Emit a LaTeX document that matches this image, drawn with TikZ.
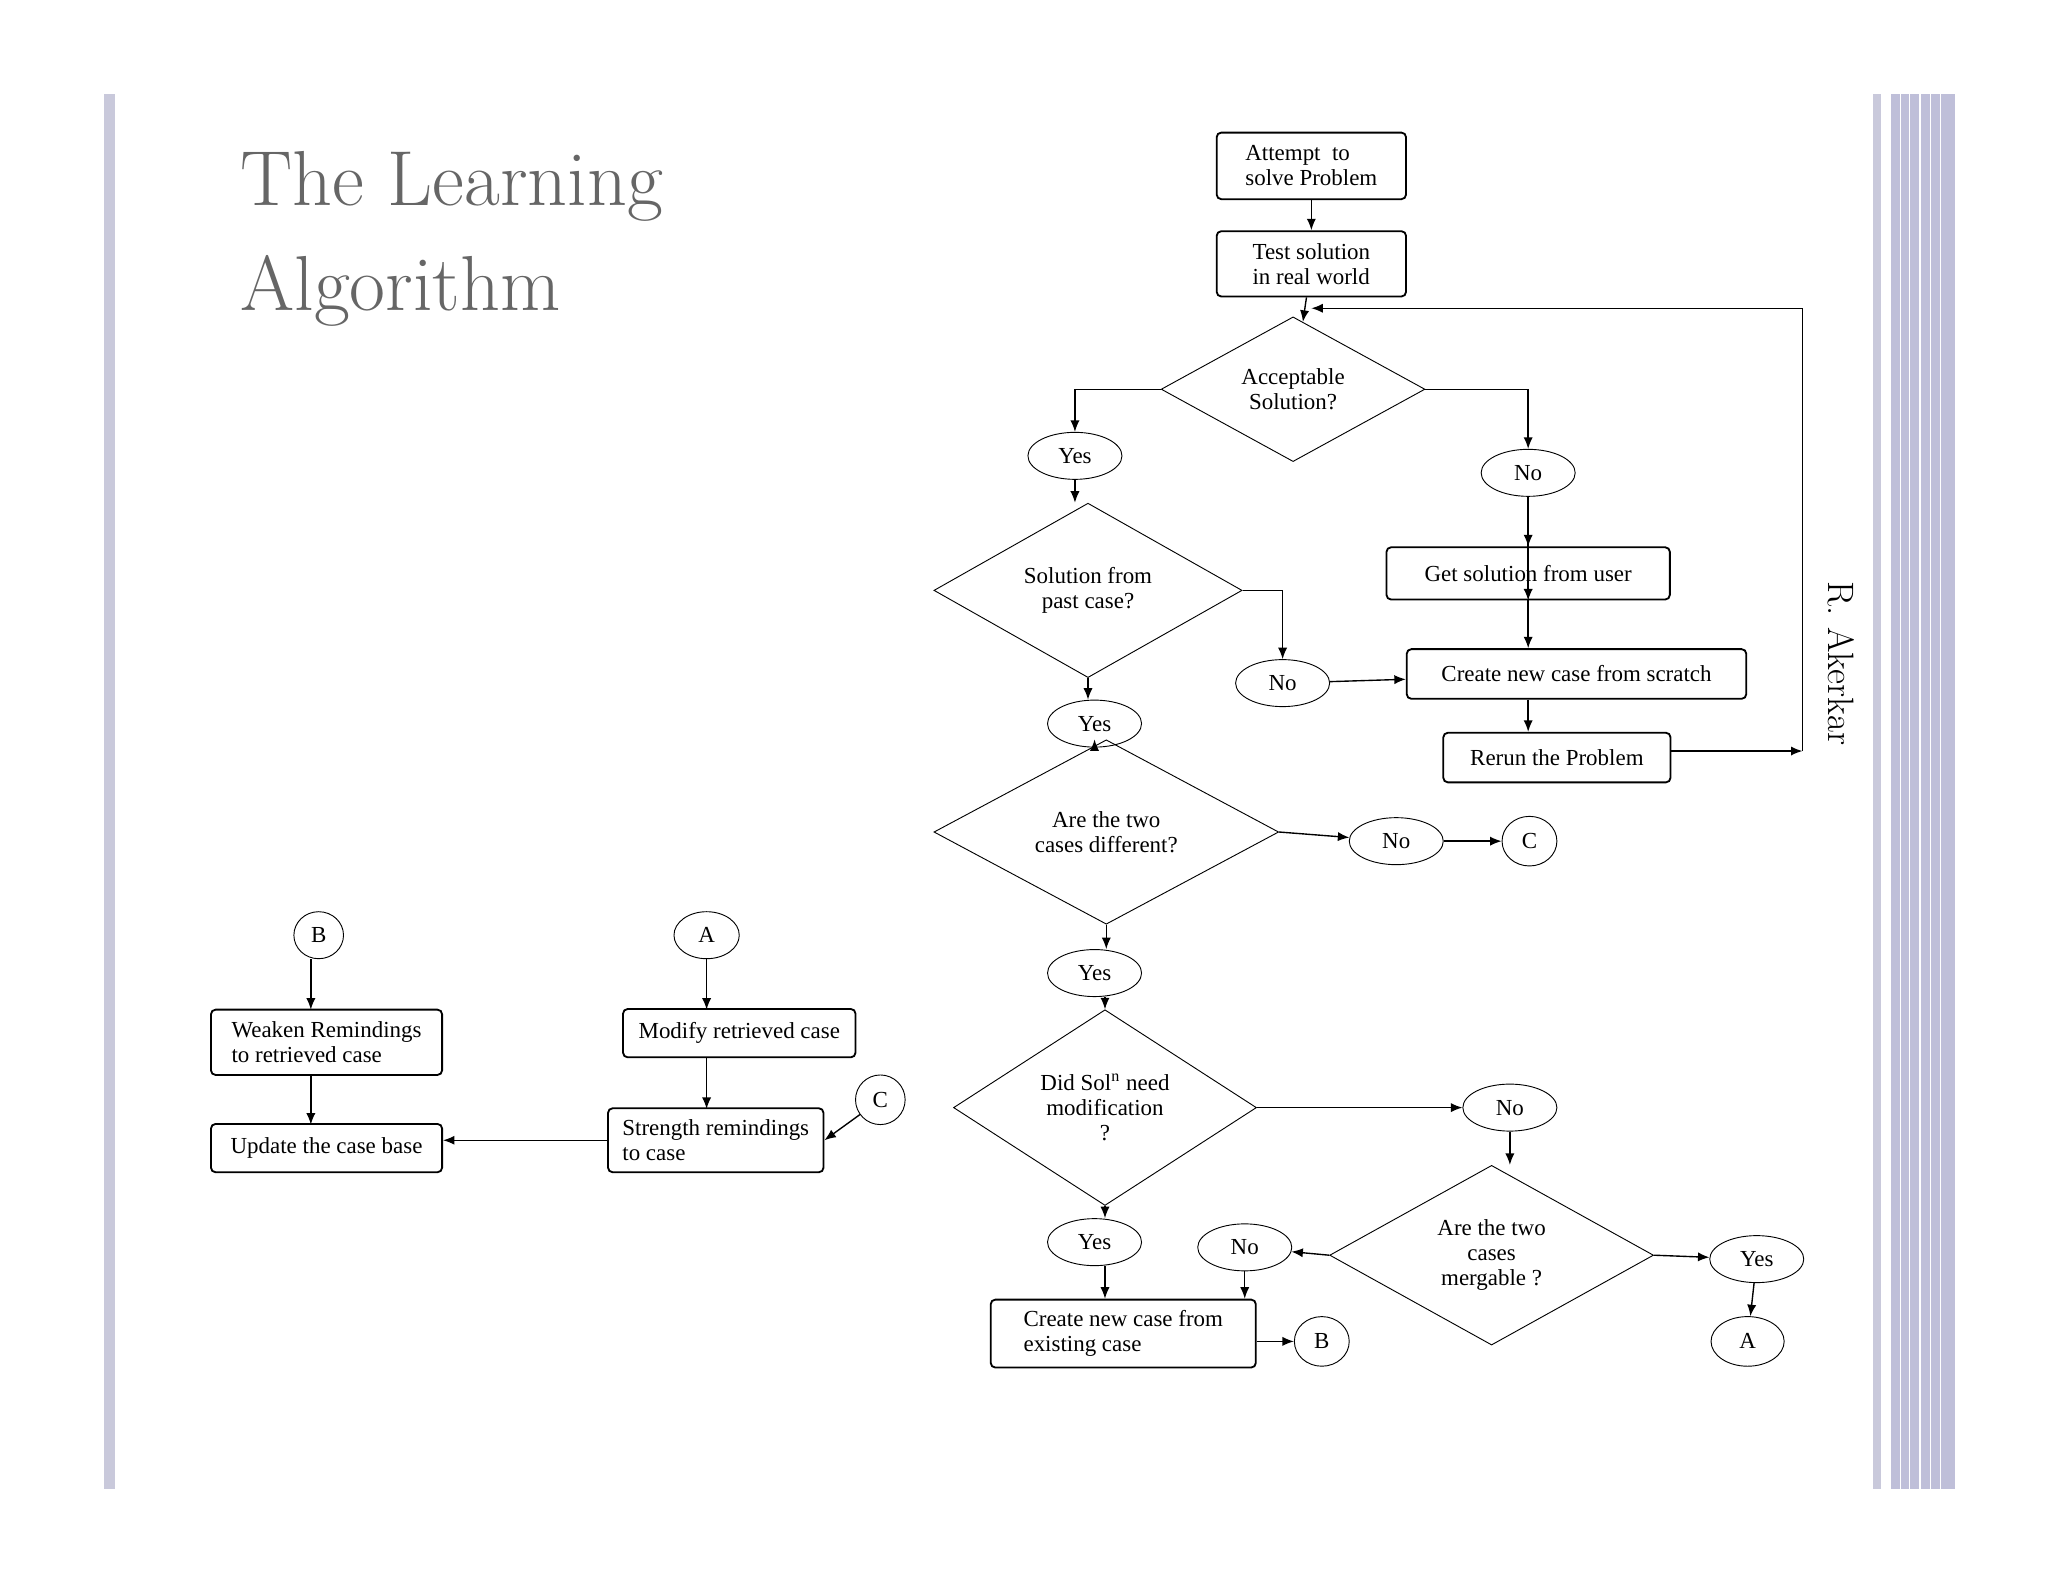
\documentclass[tikz,border=0pt]{standalone}
\usepackage{fontspec}
\setmainfont{Liberation Serif}
\newfontfamily\lmr{Latin Modern Roman}
\usetikzlibrary{shapes.geometric,arrows.meta}
\begin{document}
\begin{tikzpicture}[x=0.02cm,y=-0.02cm,
  box/.style={draw,thick,rounded corners=2pt,align=left,font=\fontsize{10}{11}\selectfont,inner sep=3pt},
  dia/.style={draw,diamond,align=center,font=\fontsize{10}{11}\selectfont,inner sep=0pt},
  ell/.style={draw,ellipse,font=\fontsize{10}{11}\selectfont,inner sep=0pt,minimum width=1.44cm,minimum height=0.72cm},
  arr/.style={-{Latex[length=5pt,width=4pt]},line width=0.6pt},
  ln/.style={line width=0.6pt}]
\useasboundingbox (0,0) rectangle (1568,1211);
\fill[white] (0,0) rectangle (1568,1211);
% borders
\fill[blue!20!gray!35] (80,72) rectangle (88,1140);
\fill[blue!20!gray!35] (1434,72) rectangle (1440,1140);
\fill[blue!25!gray!40] (1448,72) rectangle (1497,1140);
\foreach \xx in {1455,1462,1470,1478,1486} \draw[white,line width=0.5pt] (\xx,72) -- (\xx,1140);
% title
\node[anchor=west,text=gray!80!black,font=\lmr\fontsize{34}{46}\selectfont,align=left] (title) at (178,183) {\textsc{The Learning}\\\textsc{Algorithm}};
\node[rotate=-90,font=\lmr\fontsize{16}{18}\selectfont] (auth) at (1410,508) {R. Akerkar};
% nodes
\node[box,minimum width=2.9cm,minimum height=1.02cm] (a1) at (1004,127) {Attempt\ \ to\\solve Problem};
\node[box,minimum width=2.9cm,minimum height=1.0cm] (a2) at (1004,202) {Test solution\\in real world};
\node[dia,minimum width=4.04cm,minimum height=1.8cm] (d1) at (990,298) {Acceptable\\Solution?};
\node[ell] (yes1) at (823,349) {Yes};
\node[ell] (no1) at (1170,362) {No};
\node[dia,minimum width=4.72cm,minimum height=1.76cm] (d2) at (833,452) {Solution from\\past case?};
\node[box,minimum width=4.34cm,minimum height=0.8cm] (getu) at (1170,439) {Get solution from user};
\node[box,minimum width=5.2cm,minimum height=0.76cm] (scr) at (1207,516) {Create new case from scratch};
\node[ell] (no2) at (982,523) {No};
\node[ell] (yes2) at (838,554) {Yes};
\node[box,minimum width=3.48cm,minimum height=0.76cm] (rerun) at (1192,580) {Rerun the Problem};
\node[dia,minimum width=5.28cm,minimum height=2.0cm] (d3) at (847,637) {Are the two\\cases different?};
\node[ell] (no3) at (1069,644) {No};
\node[ell,minimum width=0.84cm,minimum height=0.76cm] (c1) at (1171,644) {C};
\node[ell] (yes3) at (838,745) {Yes};
\node[dia,minimum width=4.64cm,minimum height=2.28cm] (d4) at (846,848) {Did Sol\textsuperscript{n} need\\modification\\?};
\node[ell] (no4) at (1156,848) {No};
\node[dia,minimum width=4.96cm,minimum height=2.4cm] (d5) at (1142,961) {Are the two\\cases\\mergable ?};
\node[ell] (yes4) at (838,951) {Yes};
\node[ell] (no5) at (953,955) {No};
\node[ell] (yes5) at (1345,964) {Yes};
\node[ell,minimum width=1.12cm,minimum height=0.76cm] (a2c) at (1338,1027) {A};
\node[box,minimum width=4.06cm,minimum height=1.04cm] (cex) at (860,1021) {Create new case from\\existing case};
\node[ell,minimum width=0.84cm,minimum height=0.76cm] (b2) at (1012,1027) {B};
% left part
\node[ell,minimum width=0.76cm,minimum height=0.72cm] (bl) at (244,716) {B};
\node[ell,minimum width=1.0cm,minimum height=0.72cm] (al) at (541,716) {A};
\node[box,minimum width=3.54cm,minimum height=1.0cm] (weak) at (250,798) {Weaken Remindings\\to retrieved case};
\node[box,minimum width=3.56cm,minimum height=0.74cm] (mod) at (566,791) {Modify retrieved case};
\node[box,minimum width=3.54cm,minimum height=0.74cm] (upd) at (250,879) {Update the case base};
\node[box,minimum width=3.3cm,minimum height=0.98cm] (str) at (548,873) {Strength remindings\\to case};
\node[ell,minimum width=0.76cm,minimum height=0.76cm] (cl) at (674,842) {C};
% edges
\draw[arr] (a1) -- (a2);
\draw[arr] (a2) -- (d1);
\draw[arr] (d1.west) -| (yes1.north);
\draw[arr] (d1.east) -| (no1.north);
\draw[arr] (yes1) -- (yes1|-d2.north);
\draw[arr] (d2.east) -| (no2.north);
\draw[arr] (no1) -- (no1|-getu.south) ;
\draw[arr] (no1.south) -- (no1.south|-getu.north);
\draw[arr] (getu.south-|no1) -- (scr.north-|no1);
\draw[arr] (scr.south-|no1) -- (rerun.north-|no1);
\draw[arr] (no2) -- (scr);
\coordinate (fb1) at (1380,575);
\coordinate (fb2) at (1380,236);
\coordinate (fb3) at (a2.south|-fb2);
\draw[arr] (rerun.east|-fb1) -- (fb1);
\draw[ln] (fb1) -- (fb2);
\draw[arr] (fb2) -- (fb3);
\draw[arr] (d2.south) -- (d2.south|-yes2.north);
\draw[arr] (yes2.south) -- (yes2.south|-d3.north);
\draw[arr] (d3.east) -- (no3);
\draw[arr] (no3) -- (c1);
\draw[arr] (d3.south) -- (d3.south|-yes3.north);
\draw[arr] (yes3.south-|d4.north) -- (d4.north);
\draw[arr] (d4.east) -- (no4.west);
\draw[arr] (no4.south) -- (no4.south|-d5.north);
\draw[arr] (d4.south) -- (d4.south|-yes4.north);
\draw[arr] (yes4.south-|d4.south) -- (cex.north-|d4.south);
\draw[arr] (d5.west) -- (no5);
\draw[arr] (no5.south) -- (no5.south|-cex.north);
\draw[arr] (d5.east) -- (yes5);
\draw[arr] (yes5) -- (a2c);
\draw[arr] (cex.east|-b2) -- (b2);
\draw[arr] (bl.south-|weak.north-|238,0) -- (238,773);
\draw[arr] (238,823) -- (238,861);
\draw[arr] (al) -- (541,773);
\draw[arr] (541,810) -- (541,849);
\draw[arr] (str.west) -- (upd.east|-str.west);
\draw[arr] (cl) -- (str.east);
\end{tikzpicture}
\end{document}
